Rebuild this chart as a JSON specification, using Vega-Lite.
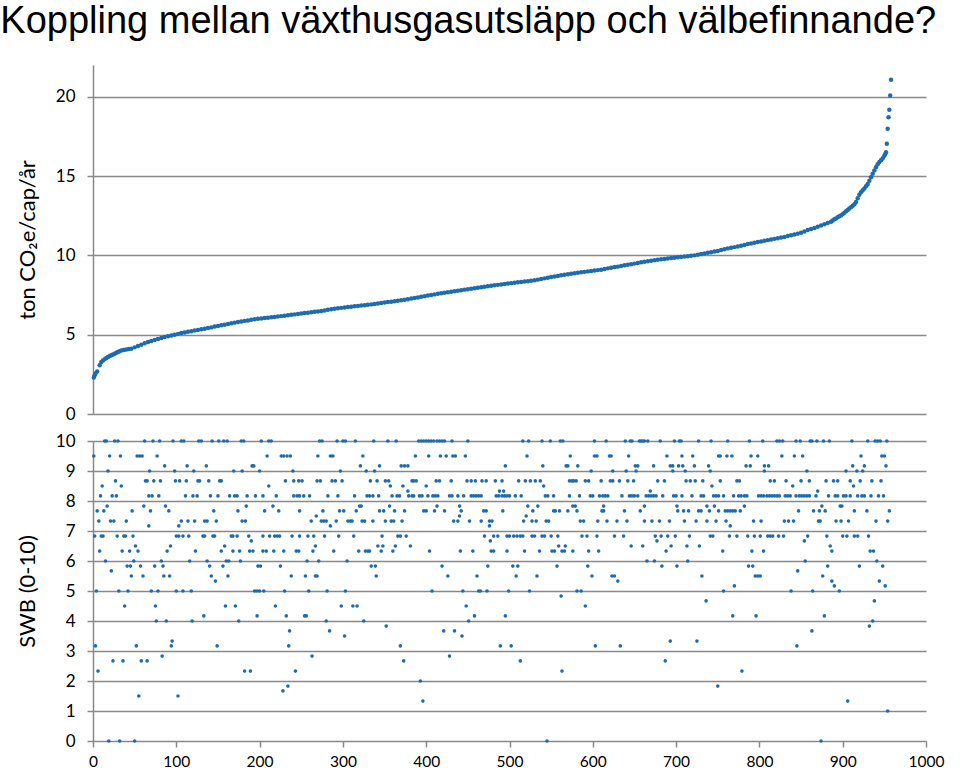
{
"$schema": "https://vega.github.io/schema/vega-lite/v6.json",
"padding": {"left": 0, "top": 3, "right": 5, "bottom": 2},
"background": "white",
"title": {"text": "Koppling mellan växthusgasutsläpp och välbefinnande?", "anchor": "start", "font": "Liberation Sans", "fontSize": 38, "fontWeight": "normal", "color": "#000000", "offset": 24, "dx": -16},
"spacing": 10,
"config": {
 "view": {"stroke": null},
 "axis": {"domainColor": "#898989", "domainWidth": 1.5, "gridColor": "#898989", "gridWidth": 1.5, "tickColor": "#898989", "tickWidth": 1.5, "tickSize": 6, "labelColor": "#000000", "labelFont": "Lato", "titleFont": "Lato", "titleColor": "#000000", "titleFontWeight": "normal", "titleFontSize": 22}
},
"vconcat": [
{
 "width": 833, "height": 349,
 "data": {"values": [
{"x":1,"y":2.30},{"x":2,"y":2.45},{"x":3,"y":2.55},{"x":5,"y":2.68},{"x":8,"y":3.07},{"x":10,"y":3.28},{"x":12,"y":3.38},{"x":14,"y":3.46},{"x":16,"y":3.53},{"x":18,"y":3.59},{"x":20,"y":3.65},{"x":22,"y":3.70},{"x":24,"y":3.75},{"x":26,"y":3.80},{"x":28,"y":3.86},{"x":30,"y":3.91},{"x":32,"y":3.96},{"x":34,"y":4.01},{"x":37,"y":4.04},{"x":40,"y":4.07},{"x":43,"y":4.10},{"x":46,"y":4.12},{"x":50,"y":4.20},{"x":54,"y":4.29},{"x":58,"y":4.37},{"x":62,"y":4.46},{"x":66,"y":4.54},{"x":70,"y":4.60},{"x":74,"y":4.66},{"x":78,"y":4.73},{"x":82,"y":4.79},{"x":86,"y":4.85},{"x":90,"y":4.90},{"x":94,"y":4.95},{"x":98,"y":5.00},{"x":102,"y":5.05},{"x":106,"y":5.10},{"x":110,"y":5.14},{"x":114,"y":5.18},{"x":118,"y":5.22},{"x":122,"y":5.26},{"x":126,"y":5.30},{"x":130,"y":5.34},{"x":134,"y":5.38},{"x":138,"y":5.42},{"x":142,"y":5.46},{"x":146,"y":5.51},{"x":150,"y":5.55},{"x":154,"y":5.59},{"x":158,"y":5.63},{"x":162,"y":5.67},{"x":166,"y":5.72},{"x":170,"y":5.76},{"x":174,"y":5.80},{"x":178,"y":5.83},{"x":182,"y":5.87},{"x":186,"y":5.90},{"x":190,"y":5.94},{"x":194,"y":5.97},{"x":198,"y":6.00},{"x":202,"y":6.02},{"x":206,"y":6.05},{"x":210,"y":6.07},{"x":214,"y":6.10},{"x":218,"y":6.12},{"x":222,"y":6.15},{"x":226,"y":6.17},{"x":230,"y":6.20},{"x":234,"y":6.22},{"x":238,"y":6.25},{"x":242,"y":6.28},{"x":246,"y":6.30},{"x":250,"y":6.33},{"x":254,"y":6.36},{"x":258,"y":6.38},{"x":262,"y":6.41},{"x":266,"y":6.44},{"x":270,"y":6.46},{"x":274,"y":6.49},{"x":278,"y":6.53},{"x":282,"y":6.57},{"x":286,"y":6.60},{"x":290,"y":6.64},{"x":294,"y":6.66},{"x":298,"y":6.69},{"x":302,"y":6.71},{"x":306,"y":6.74},{"x":310,"y":6.76},{"x":314,"y":6.79},{"x":318,"y":6.81},{"x":322,"y":6.84},{"x":326,"y":6.86},{"x":330,"y":6.89},{"x":334,"y":6.91},{"x":338,"y":6.94},{"x":342,"y":6.97},{"x":346,"y":7.00},{"x":350,"y":7.03},{"x":354,"y":7.06},{"x":358,"y":7.08},{"x":362,"y":7.11},{"x":366,"y":7.14},{"x":370,"y":7.17},{"x":374,"y":7.20},{"x":378,"y":7.24},{"x":382,"y":7.28},{"x":386,"y":7.31},{"x":390,"y":7.35},{"x":394,"y":7.39},{"x":398,"y":7.43},{"x":402,"y":7.47},{"x":406,"y":7.50},{"x":410,"y":7.54},{"x":414,"y":7.58},{"x":418,"y":7.61},{"x":422,"y":7.64},{"x":426,"y":7.68},{"x":430,"y":7.71},{"x":434,"y":7.74},{"x":438,"y":7.77},{"x":442,"y":7.80},{"x":446,"y":7.84},{"x":450,"y":7.87},{"x":454,"y":7.90},{"x":458,"y":7.93},{"x":462,"y":7.96},{"x":466,"y":7.99},{"x":470,"y":8.02},{"x":474,"y":8.05},{"x":478,"y":8.08},{"x":482,"y":8.11},{"x":486,"y":8.14},{"x":490,"y":8.17},{"x":494,"y":8.20},{"x":498,"y":8.22},{"x":502,"y":8.25},{"x":506,"y":8.27},{"x":510,"y":8.30},{"x":514,"y":8.32},{"x":518,"y":8.35},{"x":522,"y":8.37},{"x":526,"y":8.40},{"x":530,"y":8.43},{"x":534,"y":8.47},{"x":538,"y":8.51},{"x":542,"y":8.55},{"x":546,"y":8.59},{"x":550,"y":8.63},{"x":554,"y":8.67},{"x":558,"y":8.70},{"x":562,"y":8.74},{"x":566,"y":8.78},{"x":570,"y":8.81},{"x":574,"y":8.84},{"x":578,"y":8.87},{"x":582,"y":8.90},{"x":586,"y":8.93},{"x":590,"y":8.96},{"x":594,"y":8.99},{"x":598,"y":9.02},{"x":602,"y":9.04},{"x":606,"y":9.07},{"x":610,"y":9.10},{"x":614,"y":9.14},{"x":618,"y":9.18},{"x":622,"y":9.22},{"x":626,"y":9.26},{"x":630,"y":9.29},{"x":634,"y":9.33},{"x":638,"y":9.37},{"x":642,"y":9.41},{"x":646,"y":9.44},{"x":650,"y":9.48},{"x":654,"y":9.52},{"x":658,"y":9.56},{"x":662,"y":9.60},{"x":666,"y":9.63},{"x":670,"y":9.66},{"x":674,"y":9.69},{"x":678,"y":9.72},{"x":682,"y":9.75},{"x":686,"y":9.77},{"x":690,"y":9.80},{"x":694,"y":9.83},{"x":698,"y":9.85},{"x":702,"y":9.88},{"x":706,"y":9.90},{"x":710,"y":9.93},{"x":714,"y":9.95},{"x":718,"y":9.98},{"x":722,"y":10.00},{"x":726,"y":10.04},{"x":730,"y":10.08},{"x":734,"y":10.12},{"x":738,"y":10.16},{"x":742,"y":10.20},{"x":746,"y":10.24},{"x":750,"y":10.28},{"x":754,"y":10.34},{"x":758,"y":10.39},{"x":762,"y":10.44},{"x":766,"y":10.48},{"x":770,"y":10.52},{"x":774,"y":10.56},{"x":778,"y":10.61},{"x":782,"y":10.66},{"x":786,"y":10.71},{"x":790,"y":10.75},{"x":794,"y":10.80},{"x":798,"y":10.84},{"x":802,"y":10.88},{"x":806,"y":10.92},{"x":810,"y":10.96},{"x":814,"y":11.00},{"x":818,"y":11.04},{"x":822,"y":11.08},{"x":826,"y":11.12},{"x":830,"y":11.16},{"x":834,"y":11.22},{"x":838,"y":11.27},{"x":842,"y":11.32},{"x":846,"y":11.37},{"x":850,"y":11.42},{"x":854,"y":11.51},{"x":858,"y":11.60},{"x":862,"y":11.66},{"x":866,"y":11.73},{"x":870,"y":11.80},{"x":874,"y":11.88},{"x":878,"y":11.96},{"x":882,"y":12.04},{"x":886,"y":12.12},{"x":888,"y":12.20},{"x":890,"y":12.27},{"x":892,"y":12.33},{"x":894,"y":12.40},{"x":896,"y":12.46},{"x":898,"y":12.52},{"x":900,"y":12.60},{"x":902,"y":12.68},{"x":904,"y":12.78},{"x":906,"y":12.86},{"x":908,"y":12.95},{"x":910,"y":13.04},{"x":912,"y":13.13},{"x":914,"y":13.22},{"x":916,"y":13.36},{"x":918,"y":13.60},{"x":920,"y":13.82},{"x":922,"y":13.98},{"x":924,"y":14.10},{"x":926,"y":14.22},{"x":928,"y":14.35},{"x":930,"y":14.50},{"x":932,"y":14.70},{"x":934,"y":14.92},{"x":936,"y":15.15},{"x":938,"y":15.35},{"x":940,"y":15.55},{"x":942,"y":15.75},{"x":944,"y":15.88},{"x":946,"y":16.00},{"x":948,"y":16.12},{"x":950,"y":16.28},{"x":951,"y":16.38},{"x":952,"y":16.50},{"x":953,"y":17.04},{"x":954,"y":17.98},{"x":955,"y":18.70},{"x":956,"y":19.18},{"x":957,"y":20.08},{"x":958,"y":21.07}
 ]},
 "mark": {"type": "circle", "size": 20, "color": "#1d6bb0", "opacity": 1},
 "encoding": {
  "x": {"field": "x", "type": "quantitative", "scale": {"domain": [0, 1000], "nice": false}, "axis": null},
  "y": {"field": "y", "type": "quantitative", "scale": {"domain": [0, 22], "nice": false}, "axis": {"values": [0, 5, 10, 15, 20], "grid": true, "labelFontSize": 17, "labelPadding": 12, "title": "ton CO₂e/cap/år", "titlePadding": 16}}
 }
},
{
 "width": 833, "height": 300,
 "data": {"values": [
{"x":14,"y":10},{"x":16,"y":10},{"x":26,"y":10},{"x":30,"y":10},{"x":62,"y":10},{"x":72,"y":10},{"x":80,"y":10},{"x":96,"y":10},{"x":106,"y":10},{"x":109,"y":10},{"x":127,"y":10},{"x":130,"y":10},{"x":143,"y":10},{"x":151,"y":10},{"x":157,"y":10},{"x":161,"y":10},{"x":178,"y":10},{"x":181,"y":10},{"x":202,"y":10},{"x":211,"y":10},{"x":214,"y":10},{"x":272,"y":10},{"x":275,"y":10},{"x":293,"y":10},{"x":300,"y":10},{"x":303,"y":10},{"x":315,"y":10},{"x":337,"y":10},{"x":354,"y":10},{"x":364,"y":10},{"x":391,"y":10},{"x":394,"y":10},{"x":397,"y":10},{"x":400,"y":10},{"x":403,"y":10},{"x":406,"y":10},{"x":409,"y":10},{"x":413,"y":10},{"x":416,"y":10},{"x":419,"y":10},{"x":422,"y":10},{"x":431,"y":10},{"x":450,"y":10},{"x":516,"y":10},{"x":523,"y":10},{"x":539,"y":10},{"x":549,"y":10},{"x":561,"y":10},{"x":564,"y":10},{"x":602,"y":10},{"x":616,"y":10},{"x":639,"y":10},{"x":645,"y":10},{"x":647,"y":10},{"x":656,"y":10},{"x":658,"y":10},{"x":660,"y":10},{"x":662,"y":10},{"x":666,"y":10},{"x":681,"y":10},{"x":698,"y":10},{"x":704,"y":10},{"x":706,"y":10},{"x":727,"y":10},{"x":742,"y":10},{"x":762,"y":10},{"x":788,"y":10},{"x":804,"y":10},{"x":821,"y":10},{"x":824,"y":10},{"x":828,"y":10},{"x":844,"y":10},{"x":849,"y":10},{"x":861,"y":10},{"x":863,"y":10},{"x":869,"y":10},{"x":877,"y":10},{"x":884,"y":10},{"x":911,"y":10},{"x":930,"y":10},{"x":939,"y":10},{"x":942,"y":10},{"x":945,"y":10},{"x":953,"y":10},
{"x":1,"y":9.5},{"x":20,"y":9.5},{"x":33,"y":9.5},{"x":53,"y":9.5},{"x":56,"y":9.5},{"x":59,"y":9.5},{"x":77,"y":9.5},{"x":209,"y":9.5},{"x":226,"y":9.5},{"x":229,"y":9.5},{"x":233,"y":9.5},{"x":237,"y":9.5},{"x":270,"y":9.5},{"x":285,"y":9.5},{"x":288,"y":9.5},{"x":324,"y":9.5},{"x":387,"y":9.5},{"x":403,"y":9.5},{"x":417,"y":9.5},{"x":424,"y":9.5},{"x":432,"y":9.5},{"x":435,"y":9.5},{"x":447,"y":9.5},{"x":521,"y":9.5},{"x":573,"y":9.5},{"x":602,"y":9.5},{"x":605,"y":9.5},{"x":620,"y":9.5},{"x":622,"y":9.5},{"x":643,"y":9.5},{"x":689,"y":9.5},{"x":707,"y":9.5},{"x":720,"y":9.5},{"x":751,"y":9.5},{"x":753,"y":9.5},{"x":761,"y":9.5},{"x":767,"y":9.5},{"x":790,"y":9.5},{"x":798,"y":9.5},{"x":827,"y":9.5},{"x":842,"y":9.5},{"x":852,"y":9.5},{"x":922,"y":9.5},{"x":947,"y":9.5},{"x":950,"y":9.5},
{"x":86,"y":9.17},{"x":113,"y":9.17},{"x":136,"y":9.17},{"x":191,"y":9.17},{"x":193,"y":9.17},{"x":321,"y":9.17},{"x":344,"y":9.17},{"x":370,"y":9.17},{"x":374,"y":9.17},{"x":378,"y":9.17},{"x":495,"y":9.17},{"x":540,"y":9.17},{"x":568,"y":9.17},{"x":570,"y":9.17},{"x":582,"y":9.17},{"x":651,"y":9.17},{"x":654,"y":9.17},{"x":673,"y":9.17},{"x":693,"y":9.17},{"x":696,"y":9.17},{"x":703,"y":9.17},{"x":708,"y":9.17},{"x":722,"y":9.17},{"x":739,"y":9.17},{"x":784,"y":9.17},{"x":789,"y":9.17},{"x":806,"y":9.17},{"x":811,"y":9.17},{"x":912,"y":9.17},{"x":926,"y":9.17},{"x":952,"y":9.17},
{"x":18,"y":9},{"x":68,"y":9},{"x":98,"y":9},{"x":121,"y":9},{"x":169,"y":9},{"x":179,"y":9},{"x":200,"y":9},{"x":240,"y":9},{"x":297,"y":9},{"x":328,"y":9},{"x":338,"y":9},{"x":598,"y":9},{"x":624,"y":9},{"x":640,"y":9},{"x":652,"y":9},{"x":696,"y":9},{"x":711,"y":9},{"x":741,"y":9},{"x":806,"y":9},{"x":857,"y":9},{"x":904,"y":9},{"x":917,"y":9},{"x":924,"y":9},
{"x":27,"y":8.67},{"x":63,"y":8.67},{"x":65,"y":8.67},{"x":73,"y":8.67},{"x":81,"y":8.67},{"x":99,"y":8.67},{"x":104,"y":8.67},{"x":112,"y":8.67},{"x":126,"y":8.67},{"x":128,"y":8.67},{"x":139,"y":8.67},{"x":152,"y":8.67},{"x":154,"y":8.67},{"x":231,"y":8.67},{"x":241,"y":8.67},{"x":247,"y":8.67},{"x":251,"y":8.67},{"x":269,"y":8.67},{"x":273,"y":8.67},{"x":287,"y":8.67},{"x":291,"y":8.67},{"x":299,"y":8.67},{"x":333,"y":8.67},{"x":341,"y":8.67},{"x":351,"y":8.67},{"x":355,"y":8.67},{"x":383,"y":8.67},{"x":385,"y":8.67},{"x":388,"y":8.67},{"x":412,"y":8.67},{"x":416,"y":8.67},{"x":430,"y":8.67},{"x":449,"y":8.67},{"x":454,"y":8.67},{"x":459,"y":8.67},{"x":467,"y":8.67},{"x":472,"y":8.67},{"x":483,"y":8.67},{"x":491,"y":8.67},{"x":511,"y":8.67},{"x":519,"y":8.67},{"x":525,"y":8.67},{"x":531,"y":8.67},{"x":537,"y":8.67},{"x":572,"y":8.67},{"x":575,"y":8.67},{"x":577,"y":8.67},{"x":580,"y":8.67},{"x":591,"y":8.67},{"x":595,"y":8.67},{"x":610,"y":8.67},{"x":621,"y":8.67},{"x":624,"y":8.67},{"x":632,"y":8.67},{"x":642,"y":8.67},{"x":649,"y":8.67},{"x":678,"y":8.67},{"x":686,"y":8.67},{"x":712,"y":8.67},{"x":717,"y":8.67},{"x":723,"y":8.67},{"x":732,"y":8.67},{"x":753,"y":8.67},{"x":773,"y":8.67},{"x":776,"y":8.67},{"x":813,"y":8.67},{"x":818,"y":8.67},{"x":832,"y":8.67},{"x":850,"y":8.67},{"x":860,"y":8.67},{"x":880,"y":8.67},{"x":889,"y":8.67},{"x":894,"y":8.67},{"x":909,"y":8.67},{"x":921,"y":8.67},{"x":935,"y":8.67},{"x":946,"y":8.67},
{"x":11,"y":8.5},{"x":34,"y":8.5},{"x":211,"y":8.5},{"x":357,"y":8.5},{"x":372,"y":8.5},{"x":400,"y":8.5},{"x":541,"y":8.5},{"x":743,"y":8.5},{"x":840,"y":8.5},{"x":913,"y":8.5},
{"x":378,"y":8.33},{"x":488,"y":8.33},{"x":493,"y":8.33},{"x":669,"y":8.33},{"x":870,"y":8.33},
{"x":9,"y":8.17},{"x":23,"y":8.17},{"x":28,"y":8.17},{"x":67,"y":8.17},{"x":71,"y":8.17},{"x":79,"y":8.17},{"x":111,"y":8.17},{"x":120,"y":8.17},{"x":125,"y":8.17},{"x":141,"y":8.17},{"x":150,"y":8.17},{"x":164,"y":8.17},{"x":170,"y":8.17},{"x":173,"y":8.17},{"x":185,"y":8.17},{"x":195,"y":8.17},{"x":204,"y":8.17},{"x":220,"y":8.17},{"x":241,"y":8.17},{"x":245,"y":8.17},{"x":248,"y":8.17},{"x":253,"y":8.17},{"x":260,"y":8.17},{"x":282,"y":8.17},{"x":294,"y":8.17},{"x":314,"y":8.17},{"x":329,"y":8.17},{"x":332,"y":8.17},{"x":336,"y":8.17},{"x":343,"y":8.17},{"x":359,"y":8.17},{"x":365,"y":8.17},{"x":368,"y":8.17},{"x":379,"y":8.17},{"x":383,"y":8.17},{"x":385,"y":8.17},{"x":392,"y":8.17},{"x":395,"y":8.17},{"x":402,"y":8.17},{"x":408,"y":8.17},{"x":411,"y":8.17},{"x":414,"y":8.17},{"x":428,"y":8.17},{"x":431,"y":8.17},{"x":438,"y":8.17},{"x":445,"y":8.17},{"x":454,"y":8.17},{"x":457,"y":8.17},{"x":460,"y":8.17},{"x":463,"y":8.17},{"x":466,"y":8.17},{"x":484,"y":8.17},{"x":487,"y":8.17},{"x":491,"y":8.17},{"x":494,"y":8.17},{"x":497,"y":8.17},{"x":500,"y":8.17},{"x":507,"y":8.17},{"x":514,"y":8.17},{"x":543,"y":8.17},{"x":546,"y":8.17},{"x":553,"y":8.17},{"x":572,"y":8.17},{"x":584,"y":8.17},{"x":597,"y":8.17},{"x":600,"y":8.17},{"x":608,"y":8.17},{"x":612,"y":8.17},{"x":615,"y":8.17},{"x":618,"y":8.17},{"x":635,"y":8.17},{"x":644,"y":8.17},{"x":647,"y":8.17},{"x":650,"y":8.17},{"x":654,"y":8.17},{"x":664,"y":8.17},{"x":667,"y":8.17},{"x":670,"y":8.17},{"x":673,"y":8.17},{"x":676,"y":8.17},{"x":684,"y":8.17},{"x":697,"y":8.17},{"x":700,"y":8.17},{"x":707,"y":8.17},{"x":719,"y":8.17},{"x":730,"y":8.17},{"x":733,"y":8.17},{"x":745,"y":8.17},{"x":748,"y":8.17},{"x":751,"y":8.17},{"x":757,"y":8.17},{"x":769,"y":8.17},{"x":775,"y":8.17},{"x":778,"y":8.17},{"x":782,"y":8.17},{"x":785,"y":8.17},{"x":799,"y":8.17},{"x":802,"y":8.17},{"x":805,"y":8.17},{"x":809,"y":8.17},{"x":812,"y":8.17},{"x":815,"y":8.17},{"x":818,"y":8.17},{"x":821,"y":8.17},{"x":824,"y":8.17},{"x":831,"y":8.17},{"x":834,"y":8.17},{"x":837,"y":8.17},{"x":844,"y":8.17},{"x":848,"y":8.17},{"x":851,"y":8.17},{"x":854,"y":8.17},{"x":857,"y":8.17},{"x":860,"y":8.17},{"x":868,"y":8.17},{"x":883,"y":8.17},{"x":891,"y":8.17},{"x":894,"y":8.17},{"x":901,"y":8.17},{"x":904,"y":8.17},{"x":909,"y":8.17},{"x":918,"y":8.17},{"x":923,"y":8.17},{"x":926,"y":8.17},{"x":934,"y":8.17},{"x":943,"y":8.17},{"x":949,"y":8.17},
{"x":17,"y":7.83},{"x":61,"y":7.83},{"x":87,"y":7.83},{"x":184,"y":7.83},{"x":216,"y":7.83},{"x":320,"y":7.83},{"x":322,"y":7.83},{"x":356,"y":7.83},{"x":413,"y":7.83},{"x":440,"y":7.83},{"x":522,"y":7.83},{"x":534,"y":7.83},{"x":576,"y":7.83},{"x":579,"y":7.83},{"x":613,"y":7.83},{"x":662,"y":7.83},{"x":701,"y":7.83},{"x":737,"y":7.83},{"x":746,"y":7.83},{"x":782,"y":7.83},{"x":875,"y":7.83},{"x":897,"y":7.83},{"x":899,"y":7.83},
{"x":5,"y":7.67},{"x":13,"y":7.67},{"x":47,"y":7.67},{"x":69,"y":7.67},{"x":91,"y":7.67},{"x":145,"y":7.67},{"x":174,"y":7.67},{"x":206,"y":7.67},{"x":223,"y":7.67},{"x":248,"y":7.67},{"x":276,"y":7.67},{"x":296,"y":7.67},{"x":301,"y":7.67},{"x":316,"y":7.67},{"x":344,"y":7.67},{"x":349,"y":7.67},{"x":362,"y":7.67},{"x":374,"y":7.67},{"x":397,"y":7.67},{"x":400,"y":7.67},{"x":410,"y":7.67},{"x":422,"y":7.67},{"x":442,"y":7.67},{"x":469,"y":7.67},{"x":472,"y":7.67},{"x":492,"y":7.67},{"x":528,"y":7.67},{"x":553,"y":7.67},{"x":555,"y":7.67},{"x":560,"y":7.67},{"x":570,"y":7.67},{"x":581,"y":7.67},{"x":611,"y":7.67},{"x":613,"y":7.67},{"x":638,"y":7.67},{"x":657,"y":7.67},{"x":702,"y":7.67},{"x":709,"y":7.67},{"x":715,"y":7.67},{"x":727,"y":7.67},{"x":730,"y":7.67},{"x":740,"y":7.67},{"x":751,"y":7.67},{"x":759,"y":7.67},{"x":762,"y":7.67},{"x":765,"y":7.67},{"x":768,"y":7.67},{"x":771,"y":7.67},{"x":777,"y":7.67},{"x":847,"y":7.67},{"x":865,"y":7.67},{"x":872,"y":7.67},{"x":879,"y":7.67},{"x":914,"y":7.67},{"x":929,"y":7.67},{"x":956,"y":7.67},
{"x":268,"y":7.5},{"x":440,"y":7.5},{"x":520,"y":7.5},
{"x":7,"y":7.33},{"x":21,"y":7.33},{"x":25,"y":7.33},{"x":40,"y":7.33},{"x":106,"y":7.33},{"x":114,"y":7.33},{"x":122,"y":7.33},{"x":134,"y":7.33},{"x":137,"y":7.33},{"x":148,"y":7.33},{"x":179,"y":7.33},{"x":183,"y":7.33},{"x":262,"y":7.33},{"x":274,"y":7.33},{"x":277,"y":7.33},{"x":280,"y":7.33},{"x":292,"y":7.33},{"x":306,"y":7.33},{"x":309,"y":7.33},{"x":311,"y":7.33},{"x":323,"y":7.33},{"x":326,"y":7.33},{"x":336,"y":7.33},{"x":351,"y":7.33},{"x":358,"y":7.33},{"x":361,"y":7.33},{"x":371,"y":7.33},{"x":433,"y":7.33},{"x":438,"y":7.33},{"x":452,"y":7.33},{"x":466,"y":7.33},{"x":476,"y":7.33},{"x":479,"y":7.33},{"x":517,"y":7.33},{"x":527,"y":7.33},{"x":532,"y":7.33},{"x":544,"y":7.33},{"x":547,"y":7.33},{"x":585,"y":7.33},{"x":589,"y":7.33},{"x":606,"y":7.33},{"x":617,"y":7.33},{"x":629,"y":7.33},{"x":641,"y":7.33},{"x":662,"y":7.33},{"x":671,"y":7.33},{"x":680,"y":7.33},{"x":692,"y":7.33},{"x":710,"y":7.33},{"x":724,"y":7.33},{"x":737,"y":7.33},{"x":748,"y":7.33},{"x":760,"y":7.33},{"x":793,"y":7.33},{"x":802,"y":7.33},{"x":830,"y":7.33},{"x":835,"y":7.33},{"x":841,"y":7.33},{"x":871,"y":7.33},{"x":873,"y":7.33},{"x":892,"y":7.33},{"x":898,"y":7.33},{"x":907,"y":7.33},{"x":940,"y":7.33},{"x":954,"y":7.33},
{"x":67,"y":7.17},{"x":103,"y":7.17},{"x":285,"y":7.17},{"x":476,"y":7.17},{"x":765,"y":7.17},
{"x":2,"y":6.83},{"x":10,"y":6.83},{"x":12,"y":6.83},{"x":29,"y":6.83},{"x":37,"y":6.83},{"x":39,"y":6.83},{"x":48,"y":6.83},{"x":100,"y":6.83},{"x":103,"y":6.83},{"x":108,"y":6.83},{"x":115,"y":6.83},{"x":132,"y":6.83},{"x":134,"y":6.83},{"x":144,"y":6.83},{"x":146,"y":6.83},{"x":166,"y":6.83},{"x":168,"y":6.83},{"x":173,"y":6.83},{"x":187,"y":6.83},{"x":204,"y":6.83},{"x":212,"y":6.83},{"x":218,"y":6.83},{"x":221,"y":6.83},{"x":224,"y":6.83},{"x":239,"y":6.83},{"x":248,"y":6.83},{"x":258,"y":6.83},{"x":265,"y":6.83},{"x":278,"y":6.83},{"x":295,"y":6.83},{"x":313,"y":6.83},{"x":347,"y":6.83},{"x":366,"y":6.83},{"x":369,"y":6.83},{"x":376,"y":6.83},{"x":470,"y":6.83},{"x":481,"y":6.83},{"x":486,"y":6.83},{"x":497,"y":6.83},{"x":500,"y":6.83},{"x":505,"y":6.83},{"x":509,"y":6.83},{"x":513,"y":6.83},{"x":516,"y":6.83},{"x":527,"y":6.83},{"x":530,"y":6.83},{"x":539,"y":6.83},{"x":542,"y":6.83},{"x":550,"y":6.83},{"x":558,"y":6.83},{"x":587,"y":6.83},{"x":593,"y":6.83},{"x":605,"y":6.83},{"x":626,"y":6.83},{"x":637,"y":6.83},{"x":675,"y":6.83},{"x":682,"y":6.83},{"x":690,"y":6.83},{"x":699,"y":6.83},{"x":716,"y":6.83},{"x":741,"y":6.83},{"x":744,"y":6.83},{"x":764,"y":6.83},{"x":773,"y":6.83},{"x":786,"y":6.83},{"x":794,"y":6.83},{"x":801,"y":6.83},{"x":810,"y":6.83},{"x":813,"y":6.83},{"x":816,"y":6.83},{"x":823,"y":6.83},{"x":829,"y":6.83},{"x":858,"y":6.83},{"x":881,"y":6.83},{"x":900,"y":6.83},{"x":905,"y":6.83},{"x":914,"y":6.83},{"x":918,"y":6.83},{"x":931,"y":6.83},
{"x":190,"y":6.67},{"x":477,"y":6.67},{"x":677,"y":6.67},{"x":854,"y":6.67},
{"x":51,"y":6.5},{"x":93,"y":6.5},{"x":158,"y":6.5},{"x":267,"y":6.5},{"x":342,"y":6.5},{"x":348,"y":6.5},{"x":363,"y":6.5},{"x":381,"y":6.5},{"x":559,"y":6.5},{"x":567,"y":6.5},{"x":646,"y":6.5},{"x":660,"y":6.5},{"x":694,"y":6.5},{"x":713,"y":6.5},{"x":728,"y":6.5},{"x":885,"y":6.5},
{"x":8,"y":6.33},{"x":35,"y":6.33},{"x":44,"y":6.33},{"x":54,"y":6.33},{"x":89,"y":6.33},{"x":123,"y":6.33},{"x":154,"y":6.33},{"x":168,"y":6.33},{"x":176,"y":6.33},{"x":188,"y":6.33},{"x":192,"y":6.33},{"x":204,"y":6.33},{"x":208,"y":6.33},{"x":217,"y":6.33},{"x":229,"y":6.33},{"x":244,"y":6.33},{"x":247,"y":6.33},{"x":264,"y":6.33},{"x":289,"y":6.33},{"x":319,"y":6.33},{"x":327,"y":6.33},{"x":330,"y":6.33},{"x":332,"y":6.33},{"x":346,"y":6.33},{"x":360,"y":6.33},{"x":404,"y":6.33},{"x":441,"y":6.33},{"x":456,"y":6.33},{"x":478,"y":6.33},{"x":481,"y":6.33},{"x":497,"y":6.33},{"x":518,"y":6.33},{"x":536,"y":6.33},{"x":551,"y":6.33},{"x":554,"y":6.33},{"x":563,"y":6.33},{"x":566,"y":6.33},{"x":576,"y":6.33},{"x":595,"y":6.33},{"x":607,"y":6.33},{"x":688,"y":6.33},{"x":756,"y":6.33},{"x":791,"y":6.33},{"x":805,"y":6.33},{"x":887,"y":6.33},{"x":933,"y":6.33},{"x":937,"y":6.33},
{"x":15,"y":6},{"x":49,"y":6},{"x":82,"y":6},{"x":116,"y":6},{"x":137,"y":6},{"x":160,"y":6},{"x":163,"y":6},{"x":177,"y":6},{"x":257,"y":6},{"x":271,"y":6},{"x":305,"y":6},{"x":665,"y":6},{"x":674,"y":6},{"x":714,"y":6},{"x":855,"y":6},{"x":941,"y":6},
{"x":41,"y":5.83},{"x":45,"y":5.83},{"x":57,"y":5.83},{"x":74,"y":5.83},{"x":84,"y":5.83},{"x":140,"y":5.83},{"x":156,"y":5.83},{"x":198,"y":5.83},{"x":201,"y":5.83},{"x":225,"y":5.83},{"x":334,"y":5.83},{"x":339,"y":5.83},{"x":419,"y":5.83},{"x":474,"y":5.83},{"x":504,"y":5.83},{"x":510,"y":5.83},{"x":557,"y":5.83},{"x":594,"y":5.83},{"x":683,"y":5.83},{"x":701,"y":5.83},{"x":787,"y":5.83},{"x":792,"y":5.83},{"x":882,"y":5.83},{"x":920,"y":5.83},{"x":948,"y":5.83},
{"x":22,"y":5.67},{"x":846,"y":5.67},
{"x":46,"y":5.5},{"x":60,"y":5.5},{"x":85,"y":5.5},{"x":92,"y":5.5},{"x":142,"y":5.5},{"x":162,"y":5.5},{"x":238,"y":5.5},{"x":255,"y":5.5},{"x":267,"y":5.5},{"x":269,"y":5.5},{"x":340,"y":5.5},{"x":426,"y":5.5},{"x":461,"y":5.5},{"x":508,"y":5.5},{"x":533,"y":5.5},{"x":599,"y":5.5},{"x":623,"y":5.5},{"x":626,"y":5.5},{"x":731,"y":5.5},{"x":795,"y":5.5},{"x":798,"y":5.5},{"x":801,"y":5.5},{"x":876,"y":5.5},
{"x":147,"y":5.33},{"x":630,"y":5.33},{"x":887,"y":5.33},{"x":944,"y":5.33},
{"x":770,"y":5.17},{"x":890,"y":5.17},{"x":951,"y":5.17},
{"x":4,"y":5},{"x":31,"y":5},{"x":42,"y":5},{"x":70,"y":5},{"x":78,"y":5},{"x":100,"y":5},{"x":108,"y":5},{"x":118,"y":5},{"x":194,"y":5},{"x":197,"y":5},{"x":200,"y":5},{"x":205,"y":5},{"x":230,"y":5},{"x":259,"y":5},{"x":281,"y":5},{"x":303,"y":5},{"x":407,"y":5},{"x":444,"y":5},{"x":463,"y":5},{"x":465,"y":5},{"x":473,"y":5},{"x":499,"y":5},{"x":524,"y":5},{"x":581,"y":5},{"x":586,"y":5},{"x":757,"y":5},{"x":838,"y":5},{"x":864,"y":5},{"x":896,"y":5},
{"x":562,"y":4.83},{"x":736,"y":4.67},{"x":938,"y":4.67},
{"x":38,"y":4.5},{"x":75,"y":4.5},{"x":159,"y":4.5},{"x":171,"y":4.5},{"x":219,"y":4.5},{"x":298,"y":4.5},{"x":312,"y":4.5},{"x":317,"y":4.5},{"x":448,"y":4.5},{"x":591,"y":4.5},
{"x":133,"y":4.17},{"x":197,"y":4.17},{"x":232,"y":4.17},{"x":254,"y":4.17},{"x":256,"y":4.17},{"x":458,"y":4.17},{"x":495,"y":4.17},{"x":768,"y":4.17},{"x":796,"y":4.17},{"x":878,"y":4.17},
{"x":76,"y":4},{"x":88,"y":4},{"x":119,"y":4},{"x":175,"y":4},{"x":280,"y":4},{"x":325,"y":4},{"x":451,"y":4},{"x":936,"y":4},
{"x":352,"y":3.83},{"x":932,"y":3.83},
{"x":236,"y":3.67},{"x":284,"y":3.67},{"x":421,"y":3.67},{"x":434,"y":3.67},{"x":863,"y":3.67},
{"x":302,"y":3.5},{"x":443,"y":3.5},
{"x":95,"y":3.33},{"x":693,"y":3.33},{"x":725,"y":3.33},
{"x":3,"y":3.17},{"x":52,"y":3.17},{"x":94,"y":3.17},{"x":149,"y":3.17},{"x":235,"y":3.17},{"x":369,"y":3.17},{"x":489,"y":3.17},{"x":502,"y":3.17},{"x":603,"y":3.17},{"x":633,"y":3.17},{"x":845,"y":3.17},
{"x":83,"y":2.83},{"x":263,"y":2.83},{"x":428,"y":2.83},
{"x":24,"y":2.67},{"x":36,"y":2.67},{"x":58,"y":2.67},{"x":65,"y":2.67},{"x":373,"y":2.67},{"x":513,"y":2.67},{"x":687,"y":2.67},
{"x":6,"y":2.33},{"x":182,"y":2.33},{"x":189,"y":2.33},{"x":243,"y":2.33},{"x":563,"y":2.33},{"x":779,"y":2.33},
{"x":393,"y":2},
{"x":234,"y":1.83},{"x":750,"y":1.83},{"x":228,"y":1.67},
{"x":55,"y":1.5},{"x":102,"y":1.5},
{"x":396,"y":1.33},{"x":906,"y":1.33},
{"x":954,"y":1},
{"x":19,"y":0},{"x":32,"y":0},{"x":50,"y":0},{"x":545,"y":0},{"x":874,"y":0}
 ]},
 "mark": {"type": "circle", "size": 13, "color": "#1d6bb0", "opacity": 1},
 "encoding": {
  "x": {"field": "x", "type": "quantitative", "scale": {"domain": [0, 1000], "nice": false}, "axis": {"values": [0, 100, 200, 300, 400, 500, 600, 700, 800, 900, 1000], "format": "d", "grid": false, "domain": false, "labelFontSize": 15.5, "labelPadding": 7, "labelFlush": false, "title": null}},
  "y": {"field": "y", "type": "quantitative", "scale": {"domain": [0, 10], "nice": false}, "axis": {"values": [0, 1, 2, 3, 4, 5, 6, 7, 8, 9, 10], "grid": true, "labelFontSize": 17, "labelPadding": 12, "title": "SWB (0-10)", "titlePadding": 16}}
 }
}
]
}
